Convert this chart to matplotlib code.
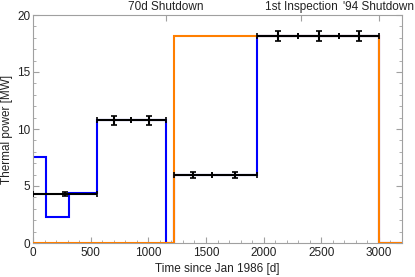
import matplotlib
matplotlib.use("Agg")
import matplotlib.pyplot as plt
from matplotlib.ticker import MultipleLocator

plt.rcParams['font.family'] = ['Liberation Sans', 'DejaVu Sans']

# Blue step series (edges in days, levels in MW)
blue_edges = [0, 112, 311, 553, 1155, 1220, 1945, 3000, 3200]
blue_levels = [7.55, 2.3, 4.4, 10.75, 0, 6.0, 18.15, 0]

# Orange step series
orange_edges = [0, 1220, 3000, 3200]
orange_levels = [0, 18.15, 0]

# Black measurements: bin start/end, power, error
meas_start = [0, 553, 850, 1220, 1556, 1945, 2300, 2654]
meas_end = [553, 850, 1155, 1556, 1945, 2300, 2654, 3000]
meas_power = [4.3, 10.75, 10.75, 6.0, 6.0, 18.15, 18.15, 18.15]
meas_err = [0.18, 0.42, 0.42, 0.26, 0.26, 0.42, 0.42, 0.42]

# Top axis events
event_days = [1150, 2326, 3000]
event_labels = ["70d Shutdown", "1st Inspection", "'94 Shutdown"]

frame_col = '#a0a0a0'
text_col = '#222222'

fig = plt.figure(figsize=(4.15, 2.77), dpi=100)
ax = fig.add_axes([33/415, 1-243/277, (402-33)/415, (243-15)/277])

ax.stairs(blue_levels, blue_edges, baseline=None, color='#0000ff', lw=1.5, zorder=2)
ax.stairs(orange_levels, orange_edges, baseline=None, color='#ff7f00', lw=1.5, zorder=3)

xc = [(a + b) / 2 for a, b in zip(meas_start, meas_end)]
xe = [(b - a) / 2 for a, b in zip(meas_start, meas_end)]
ax.errorbar(xc, meas_power, xerr=xe, yerr=meas_err, fmt='none', ecolor='black',
            elinewidth=1.5, capsize=2.0, capthick=1.2, zorder=4)

ax.set_xlim(0, 3200)
ax.set_ylim(0, 20)
ax.xaxis.set_major_locator(MultipleLocator(500))
ax.xaxis.set_minor_locator(MultipleLocator(100))
ax.yaxis.set_major_locator(MultipleLocator(5))
ax.yaxis.set_minor_locator(MultipleLocator(1))
ax.tick_params(axis='both', which='both', direction='in', colors=frame_col,
               labelcolor=text_col, labelsize=8.5, top=False, right=True)
ax.tick_params(which='major', length=4, width=0.8)
ax.tick_params(which='minor', length=2, width=0.6)
ax.tick_params(axis='x', pad=3)
ax.tick_params(axis='y', pad=2)
for s in ax.spines.values():
    s.set_color(frame_col)
    s.set_linewidth(0.8)

ax.set_xlabel("Time since Jan 1986 [d]", fontsize=8.5, color=text_col, labelpad=3)
ax.set_ylabel("Thermal power [MW]", fontsize=8.5, color=text_col, labelpad=3)

ax2 = ax.twiny()
ax2.set_xlim(ax.get_xlim())
ax2.set_xticks(event_days)
ax2.set_xticklabels(event_labels)
ax2.tick_params(axis='x', direction='in', colors=frame_col, labelcolor=text_col,
                labelsize=8.5, length=4, width=0.8, pad=1.5)
for s in ax2.spines.values():
    s.set_visible(False)

fig.savefig("out.png", dpi=100)
